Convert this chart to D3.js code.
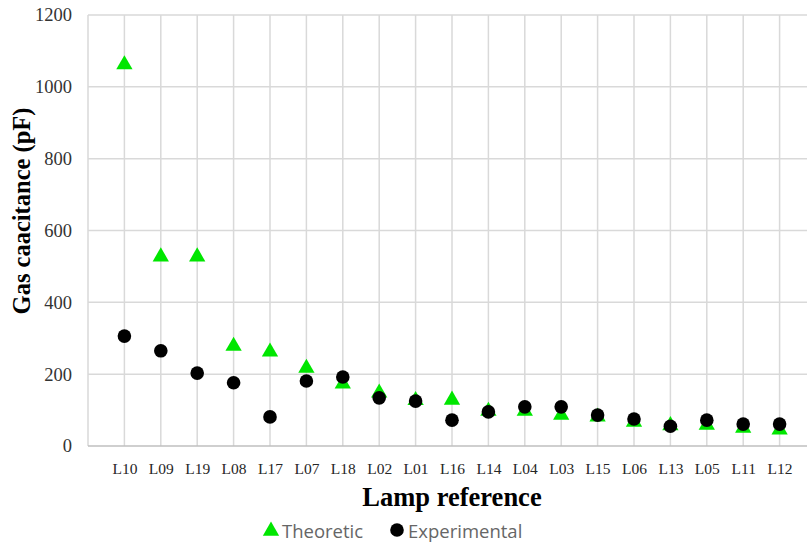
<!DOCTYPE html>
<html><head><meta charset="utf-8">
<script src="https://cdn.jsdelivr.net/npm/d3@7"></script>
<style>body{margin:0;background:#fff;} svg{display:block;}
.serif{font-family:"Liberation Serif","Times New Roman",serif;}</style>
</head><body>
<svg id="chart" width="807" height="544"></svg>
<script>
const categories = ["L10","L09","L19","L08","L17","L07","L18","L02","L01","L16","L14","L04","L03","L15","L06","L13","L05","L11","L12"];
const theoretic = [1062, 527, 527, 278, 262, 217, 173, 148, 127, 128, 97, 97, 86, 81, 67, 57, 58, 50, 45];
const experimental = [306, 265, 203, 176, 81, 181, 192, 134, 125, 72, 95, 109, 109, 86, 75, 55, 72, 61, 61];
const yTicks = [0, 200, 400, 600, 800, 1000, 1200];

(function () {
const svg = d3.select("#chart");
const pL = 88, pR = 816, pT = 15, pB = 446;
const x = d3.scalePoint().domain(categories).range([pL, pR]).padding(1);
const y = d3.scaleLinear().domain([0, 1200]).range([pB, pT]);
const serif = '"Liberation Serif","Times New Roman",serif';

// gridlines
const grid = svg.append("g");
grid.selectAll("line.h").data(yTicks.filter(d => d > 0)).enter().append("line")
  .attr("x1", pL).attr("x2", 807).attr("y1", d => y(d)).attr("y2", d => y(d))
  .attr("stroke", "#d9d9d9").attr("stroke-width", 1.5);
grid.selectAll("line.v").data(categories).enter().append("line")
  .attr("x1", d => x(d)).attr("x2", d => x(d)).attr("y1", pT).attr("y2", pB)
  .attr("stroke", "#d9d9d9").attr("stroke-width", 1.5);
grid.append("line").attr("x1", pL).attr("x2", pL).attr("y1", pT).attr("y2", pB)
  .attr("stroke", "#d9d9d9").attr("stroke-width", 1.5);

// y axis
const yAxis = svg.append("g").attr("transform", `translate(${pL},0)`)
  .call(d3.axisLeft(y).tickValues(yTicks).tickFormat(d3.format("d")).tickSize(0).tickPadding(16));
yAxis.select(".domain").remove();
yAxis.attr("font-family", serif).attr("font-size", null);
yAxis.selectAll("text").style("font-family", serif)
  .style("font-size", "18.5px").attr("fill", "#333");

// x axis
const xAxis = svg.append("g").attr("transform", `translate(0,${pB})`)
  .call(d3.axisBottom(x).tickSize(0).tickPadding(17));
xAxis.attr("font-family", serif).attr("font-size", null);
xAxis.select(".domain").attr("stroke", "#bfbfbf").attr("stroke-width", 1.5)
  .attr("d", `M${pL},0H807`);
xAxis.selectAll("text").style("font-family", serif)
  .style("font-size", "15.5px").attr("fill", "#262626");

// titles
svg.append("text").style("font-family", serif).attr("transform", "translate(30,211) rotate(-90)")
  .attr("text-anchor", "middle")
  .attr("font-weight", "bold").style("font-size", "24.5px").attr("fill", "#000")
  .text("Gas caacitance (pF)");
svg.append("text").style("font-family", serif).attr("x", 452).attr("y", 506)
  .attr("text-anchor", "middle")
  .attr("font-weight", "bold").style("font-size", "26.5px").attr("fill", "#000")
  .text("Lamp reference");

// series
const tri = d3.symbol().type(d3.symbolTriangle).size(115);
svg.append("g").selectAll("path").data(categories).enter().append("path")
  .attr("d", tri)
  .attr("transform", (d, i) => `translate(${x(d)},${y(theoretic[i])})`)
  .attr("fill", "#00e600");
svg.append("g").selectAll("circle").data(categories).enter().append("circle")
  .attr("cx", d => x(d)).attr("cy", (d, i) => y(experimental[i]))
  .attr("r", 6.8).attr("fill", "#000");

// legend
const lg = svg.append("g");
lg.append("path").attr("d", tri).attr("transform", "translate(271,531)").attr("fill", "#00e600");
lg.append("text").attr("x", 282).attr("y", 538).attr("font-family", "Open Sans, sans-serif")
  .style("font-size", "18.5px").attr("fill", "#666").text("Theoretic");
lg.append("circle").attr("cx", 397).attr("cy", 530).attr("r", 6.8).attr("fill", "#000");
lg.append("text").attr("x", 408).attr("y", 538).attr("font-family", "Open Sans, sans-serif")
  .style("font-size", "18.5px").attr("fill", "#666").text("Experimental");
})();
</script>
</body></html>
